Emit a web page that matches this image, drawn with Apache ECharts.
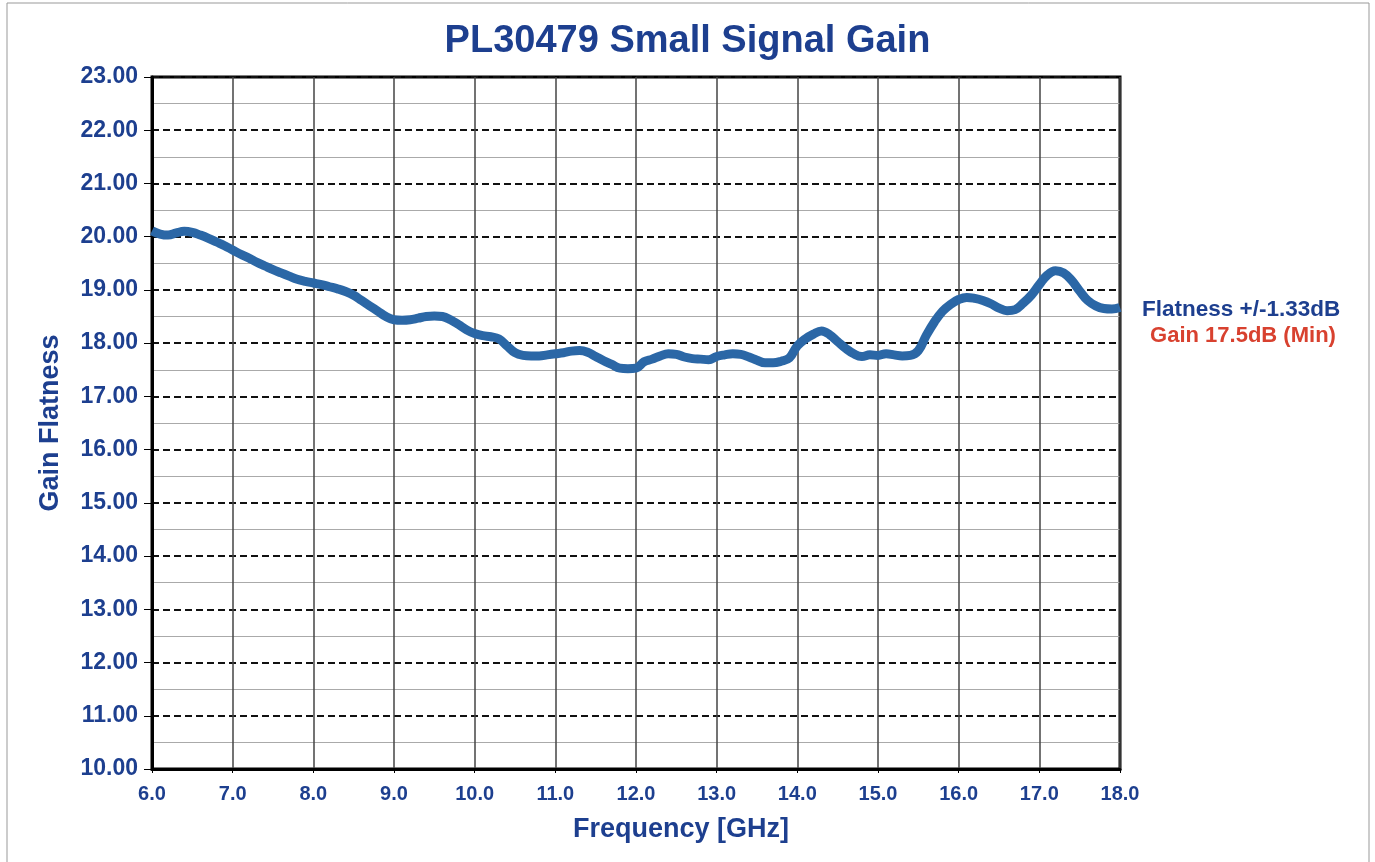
<!DOCTYPE html>
<html>
<head>
<meta charset="utf-8">
<script src="https://cdn.jsdelivr.net/npm/echarts@6/dist/echarts.min.js"></script>
<style>
html,body{margin:0;padding:0;background:#fff;}
#chart{width:1375px;height:862px;}
</style>
</head>
<body>
<div id="chart"></div>
<script>
const freqs = [6.0,6.1,6.2,6.3,6.4,6.5,6.6,6.7,6.8,6.9,7.0,7.1,7.2,7.3,7.4,7.5,7.6,7.7,7.8,7.9,
8.0,8.1,8.2,8.3,8.4,8.5,8.6,8.7,8.8,8.9,9.0,9.1,9.2,9.3,9.4,9.5,9.6,9.7,9.8,9.9,
10.0,10.1,10.2,10.3,10.4,10.5,10.6,10.7,10.8,10.9,11.0,11.1,11.2,11.3,11.4,11.5,11.6,11.7,11.8,11.9,
12.0,12.1,12.2,12.3,12.4,12.5,12.6,12.7,12.8,12.9,13.0,13.1,13.2,13.3,13.4,13.5,13.6,13.7,13.8,13.9,
14.0,14.1,14.2,14.3,14.4,14.5,14.6,14.7,14.8,14.9,15.0,15.1,15.2,15.3,15.4,15.5,15.6,15.7,15.8,15.9,
16.0,16.1,16.2,16.3,16.4,16.5,16.6,16.7,16.8,16.9,17.0,17.1,17.2,17.3,17.4,17.5,17.6,17.7,17.8,17.9,18.0];
const gain = [20.11,20.05,20.03,20.07,20.10,20.08,20.03,19.97,19.90,19.83,19.75,19.67,19.60,19.52,19.45,19.38,19.32,19.26,19.20,19.16,
19.13,19.10,19.06,19.02,18.97,18.90,18.80,18.70,18.60,18.50,18.44,18.43,18.44,18.47,18.50,18.51,18.50,18.44,18.35,18.25,
18.18,18.14,18.12,18.08,17.95,17.82,17.77,17.76,17.76,17.78,17.80,17.82,17.85,17.86,17.83,17.75,17.67,17.60,17.53,17.52,
17.53,17.65,17.70,17.76,17.80,17.79,17.74,17.71,17.70,17.69,17.75,17.78,17.80,17.79,17.74,17.68,17.63,17.63,17.66,17.72,
17.95,18.08,18.17,18.23,18.16,18.03,17.90,17.80,17.75,17.78,17.77,17.80,17.78,17.76,17.77,17.86,18.15,18.40,18.60,18.73,
18.82,18.86,18.84,18.80,18.74,18.66,18.61,18.63,18.75,18.90,19.10,19.28,19.36,19.32,19.18,18.98,18.80,18.70,18.65,18.64,18.67];
const yTicks = {min:10, max:23, step:1};
const xTicks = {min:6, max:18, step:1};
const titleText = 'PL30479 Small Signal Gain';
const xName = 'Frequency [GHz]';
const yName = 'Gain Flatness';
const note1 = 'Flatness +/-1.33dB';
const note2 = 'Gain 17.5dB (Min)';

const navy = '#1d3f8f';
const FF = 'Liberation Sans';
const chart = echarts.init(document.getElementById('chart'));
chart.setOption({
  backgroundColor:'#fff',
  animation:false,
  title:{text:titleText,left:'center',top:18,textStyle:{fontFamily:FF,fontWeight:'bold',fontSize:38,color:navy}},
  grid:{left:152,right:255,top:77,bottom:93,show:true,borderColor:'#000',borderWidth:3,backgroundColor:'transparent'},
  xAxis:{type:'value',min:xTicks.min,max:xTicks.max,interval:xTicks.step,
    axisLine:{show:true,lineStyle:{color:'#000',width:3}},
    axisTick:{show:true,length:4,lineStyle:{color:'#000',width:1}},
    axisLabel:{formatter:v=>v.toFixed(1),margin:15,fontFamily:FF,fontWeight:'bold',fontSize:20,color:navy},
    splitLine:{show:true,lineStyle:{color:'#444',width:1.5,type:'solid'}}},
  yAxis:{type:'value',min:yTicks.min,max:yTicks.max,interval:yTicks.step,
    name:yName,nameLocation:'middle',nameGap:88,nameRotate:90,
    nameTextStyle:{fontFamily:FF,fontWeight:'bold',fontSize:27,color:navy},
    axisLine:{show:true,lineStyle:{color:'#000',width:3}},
    axisTick:{show:true,length:8,lineStyle:{color:'#000',width:1}},
    axisLabel:{formatter:v=>v.toFixed(2),margin:14,fontFamily:FF,fontWeight:'bold',fontSize:23,color:navy},
    splitLine:{show:true,lineStyle:{color:'#111',width:2,type:[7,4]}},
    minorTick:{show:false,splitNumber:2},
    minorSplitLine:{show:true,lineStyle:{color:'#aaa',width:1}}},
  series:[{type:'line',data:freqs.map((f,i)=>[f,gain[i]]),smooth:0.4,symbol:'none',
    lineStyle:{color:'#2b67a6',width:9},z:5}],
  graphic:[
    {type:'rect',shape:{x:7,y:3,width:1362,height:880},style:{fill:'none',stroke:'#999',lineWidth:1},silent:true},
    {type:'text',x:681,y:830,style:{text:xName,fontFamily:FF,fontWeight:'bold',fontSize:27,fill:navy,align:'center',verticalAlign:'middle'}},
    {type:'text',x:1142,y:310,style:{text:note1,fontFamily:FF,fontWeight:'bold',fontSize:22.5,fill:navy,align:'left',verticalAlign:'middle'}},
    {type:'text',x:1243,y:336,style:{text:note2,fontFamily:FF,fontWeight:'bold',fontSize:22,fill:'#d8412f',align:'center',verticalAlign:'middle'}}
  ]
});
</script>
</body>
</html>
